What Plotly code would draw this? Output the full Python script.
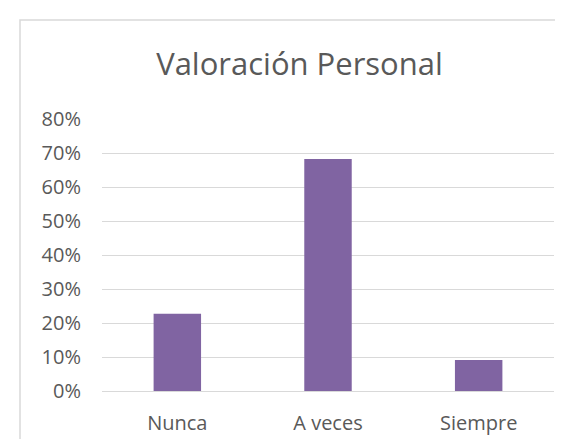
import plotly.graph_objects as go

categories = ["Nunca", "A veces", "Siempre"]
values = [0.227, 0.682, 0.091]
y_ticks = [0, 0.1, 0.2, 0.3, 0.4, 0.5, 0.6, 0.7, 0.8]
y_tick_labels = ["0%", "10%", "20%", "30%", "40%", "50%", "60%", "70%", "80%"]
title_text = "Valoración Personal"

W, H = 563, 439
font_color = "#595959"
grid_color = "#D9D9D9"

fig = go.Figure(go.Bar(x=categories, y=values, marker=dict(color="#8064A2", line=dict(width=0))))

fig.update_layout(
    width=W, height=H,
    margin=dict(l=94, r=17, t=111, b=56),
    paper_bgcolor="white", plot_bgcolor="white",
    bargap=0.685,
    showlegend=False,
    font=dict(family="Open Sans", color=font_color, size=20),
    title=dict(text=title_text, x=291.5 / W, xanchor="center", xref="paper",
               y=1 - 56 / H, yanchor="middle", yref="container",
               font=dict(size=31, color=font_color, family="Open Sans")),
)
fig.update_layout(title_xref="container")

fig.update_yaxes(range=[0, 0.8], tickvals=y_ticks, ticktext=y_tick_labels,
                 showgrid=True, gridcolor=grid_color, gridwidth=1,
                 zeroline=True, zerolinecolor=grid_color, zerolinewidth=1,
                 showline=False, ticks="", ticklabelstandoff=20,
                 tickfont=dict(size=20, color=font_color))
fig.update_xaxes(showgrid=False, showline=False, ticks="", ticklabelstandoff=18,
                 tickfont=dict(size=20, color=font_color))

# chart-area border (partially cropped on right/bottom like the reference)
fig.add_shape(type="rect", xref="paper", yref="paper",
              x0=(12 - 94) / (W - 94 - 17), x1=(575 - 94) / (W - 94 - 17),
              y0=-(460 - 383) / (383 - 111), y1=(383 - 12) / (383 - 111),
              line=dict(color=grid_color, width=1.5), fillcolor="rgba(0,0,0,0)", layer="below")

fig.write_html("out.html")
